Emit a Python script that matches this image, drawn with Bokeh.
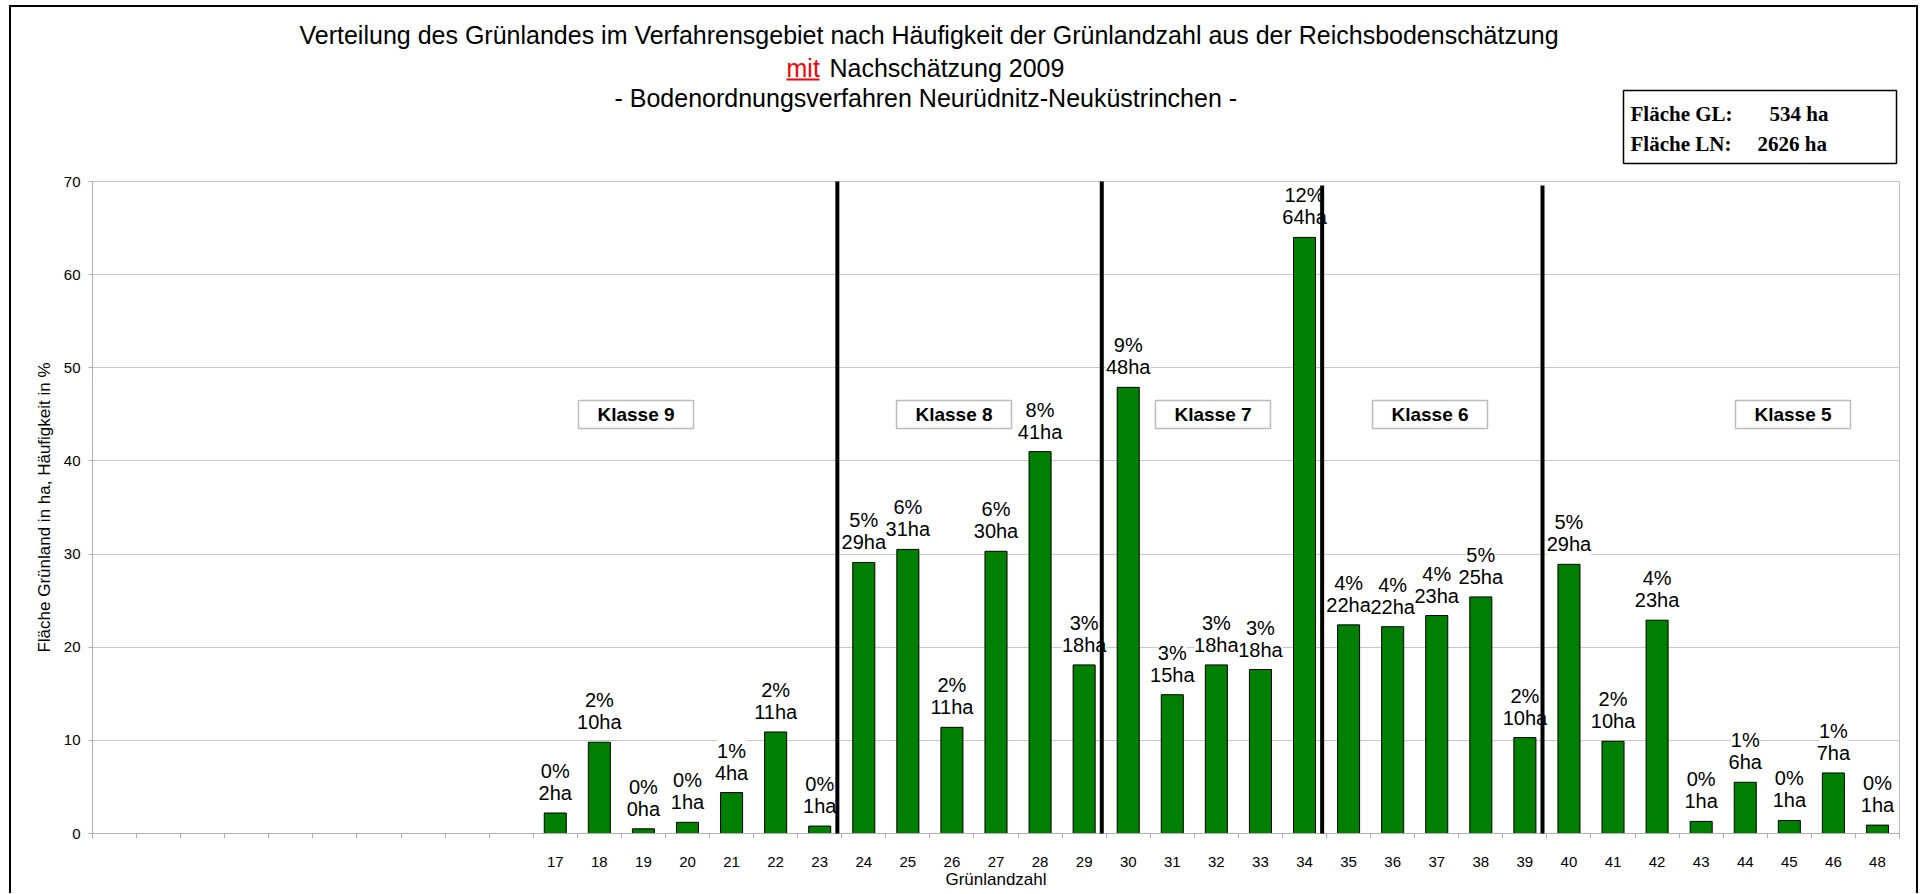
import numpy as np
from bokeh.plotting import figure
from bokeh.layouts import column
from bokeh.models import Range1d, FixedTicker, Label, BoxAnnotation, Arrow, ColumnDataSource
from bokeh.core.properties import value
from bokeh.embed import file_html
from bokeh.resources import INLINE

# ---------------- data ----------------
leere_kategorien = 10  # leading empty category slots on the axis (no area)
grunlandzahl = [17, 18, 19, 20, 21, 22, 23, 24, 25, 26, 27, 28, 29, 30, 31, 32,
                33, 34, 35, 36, 37, 38, 39, 40, 41, 42, 43, 44, 45, 46, 48]
flaeche_ha = [2.2, 9.8, 0.5, 1.2, 4.4, 10.9, 0.8,
              29.1, 30.5, 11.4, 30.3, 41.0, 18.1,
              47.9, 14.9, 18.1, 17.6, 64.0,
              22.4, 22.2, 23.4, 25.4, 10.3,
              28.9, 9.9, 22.9, 1.3, 5.5, 1.4, 6.5, 0.9]
ha_text = ["2ha", "10ha", "0ha", "1ha", "4ha", "11ha", "1ha",
           "29ha", "31ha", "11ha", "30ha", "41ha", "18ha",
           "48ha", "15ha", "18ha", "18ha", "64ha",
           "22ha", "22ha", "23ha", "25ha", "10ha",
           "29ha", "10ha", "23ha", "1ha", "6ha", "1ha", "7ha", "1ha"]
pct_text = ["0%", "2%", "0%", "0%", "1%", "2%", "0%",
            "5%", "6%", "2%", "6%", "8%", "3%",
            "9%", "3%", "3%", "3%", "12%",
            "4%", "4%", "4%", "5%", "2%",
            "5%", "2%", "4%", "0%", "1%", "0%", "1%", "0%"]
klassen = ["Klasse 9", "Klasse 8", "Klasse 7", "Klasse 6", "Klasse 5"]
klassen_grenzen = [23.5, 29.5, 34.5, 39.5]
y_ticks = [0, 10, 20, 30, 40, 50, 60, 70]
flaeche_gl = "534 ha"
flaeche_ln = "2626 ha"

title_1 = "Verteilung des Grünlandes im Verfahrensgebiet nach Häufigkeit der Grünlandzahl aus der Reichsbodenschätzung"
title_2a = "mit"
title_2b = "Nachschätzung 2009"
title_3 = "- Bodenordnungsverfahren Neurüdnitz-Neuküstrinchen  -"

FONT = "Liberation Sans"
SERIF = "Liberation Serif"

# ---------------- layout ----------------
W = 1920
HH = 165                 # header height (page px)
HM = 728                 # main figure height
BL, BR, BT = 92, W - 1899, 16
FB = 833                 # frame bottom, page px
FT = HH + BT             # frame top, page px
BB = HH + HM - FB
n_cat = leere_kategorien + len(grunlandzahl)
pos = [leere_kategorien + i for i in range(len(grunlandzahl))]
CW = (W - BL - BR) / n_cat
YU = (FB - FT) / 70.0

def dx(X):  # page px -> main data x
    return (X - BL) / CW - 0.5

def dy(Y):  # page px -> main data y
    return (FB - Y) / YU

# ---------------- header (titles, area box) ----------------
# the column aligns the header's frame with the chart frame (x from BL to W-BR),
# so this x range makes header data x equal to page x
hdr = figure(width=W, height=HH, output_backend="svg", toolbar_location=None,
             x_range=Range1d(BL, W - BR), y_range=Range1d(HH, 0),
             x_axis_type=None, y_axis_type=None, min_border=0,
             min_border_left=BL, min_border_right=BR)
hdr.grid.visible = False
hdr.outline_line_color = None
hdr.background_fill_color = None
hdr.border_fill_color = None

def hlabel(x, y, text, size, color="#000000", font=FONT, style="normal"):
    hdr.add_layout(Label(x=x, y=y, text=text, text_align="left", text_baseline="middle",
                         text_font=font, text_font_size=size, text_font_style=style,
                         text_color=color))

hlabel(299, 34.5, title_1, "25px")
hlabel(786, 67.5, title_2a, "25px", color="#ff0000")
hdr.line(x=[786, 819], y=[79, 79], line_color="#ff0000", line_width=2)
hlabel(829, 67.5, title_2b, "25px")
hlabel(614, 97.5, title_3, "25px")

hdr.quad(left=[1623], right=[1896], top=[90], bottom=[163], fill_color="white",
         line_color="#000000", line_width=1.5)
for row_y, lab, val, vx in ((113.5, "Fläche GL:", flaeche_gl, 1769),
                            (143.5, "Fläche LN:", flaeche_ln, 1757)):
    hlabel(1630, row_y, lab, "21px", font=SERIF, style="bold")
    hlabel(vx, row_y, val, "21px", font=SERIF, style="bold")

# ---------------- main chart ----------------
p = figure(width=W, height=HM, output_backend="svg", toolbar_location=None,
           x_range=Range1d(-0.5, n_cat - 0.5), y_range=Range1d(0, 70),
           min_border_left=BL, min_border_right=BR, min_border_top=BT, min_border_bottom=BB)
p.background_fill_color = "white"
p.border_fill_color = None
p.outline_line_color = "#c0c0c0"

p.xaxis.ticker = FixedTicker(ticks=pos, minor_ticks=[i - 0.5 for i in range(n_cat + 1)])
p.xaxis.major_label_overrides = {k: str(g) for k, g in zip(pos, grunlandzahl)}
p.xaxis.major_tick_out = 0
p.xaxis.major_tick_in = 0
p.xaxis.minor_tick_out = 5
p.xaxis.minor_tick_in = 0
p.xaxis.minor_tick_line_color = "#b0b0b0"
p.xaxis.axis_line_color = "#b0b0b0"
p.xaxis.major_label_standoff = 18
p.xaxis.axis_label = "Grünlandzahl"
p.xaxis.axis_label_standoff = 0

p.yaxis.ticker = FixedTicker(ticks=y_ticks)
p.yaxis.major_tick_out = 4
p.yaxis.major_tick_in = 0
p.yaxis.minor_tick_line_color = None
p.yaxis.major_tick_line_color = "#b0b0b0"
p.yaxis.axis_line_color = "#b0b0b0"
p.yaxis.major_label_standoff = 8
p.yaxis.axis_label = "Fläche Grünland in ha, Häufigkeit in %"
p.yaxis.axis_label_standoff = 7

for ax in (p.xaxis, p.yaxis):
    ax.major_label_text_font = FONT
    ax.major_label_text_font_size = "15px"
    ax.major_label_text_color = "#000000"
    ax.axis_label_text_font = FONT
    ax.axis_label_text_font_size = "17px"
    ax.axis_label_text_font_style = "normal"
    ax.axis_label_text_color = "#000000"

p.xgrid.grid_line_color = None
p.ygrid.ticker = FixedTicker(ticks=y_ticks)
p.ygrid.grid_line_color = "#c8c8c8"

src = ColumnDataSource(dict(x=pos, top=flaeche_ha, ha=ha_text, pct=pct_text))
p.vbar(x="x", top="top", width=0.5, source=src, fill_color="#008000",
       line_color="#000000", line_width=1)

p.text(x="x", y="top", text="pct", source=src, y_offset=-42, text_align="center",
       text_baseline="middle", text_font=value(FONT), text_font_size="20px",
       text_color="#000000", background_fill_color="white")
p.text(x="x", y="top", text="ha", source=src, y_offset=-20, text_align="center",
       text_baseline="middle", text_font=value(FONT), text_font_size="20px",
       text_color="#000000", background_fill_color="white")

klassen_links = [578, 896, 1155, 1372, 1735]
klassen_breite = 115
for name, lx in zip(klassen, klassen_links):
    p.add_layout(BoxAnnotation(left=dx(lx), right=dx(lx + klassen_breite),
                               bottom=dy(428), top=dy(400),
                               fill_color="white", fill_alpha=1.0,
                               line_color="#222222", line_width=1.5))
    p.add_layout(Label(x=dx(lx + klassen_breite / 2), y=dy(414), text=name,
                       text_align="center", text_baseline="middle",
                       text_font=FONT, text_font_size="19px", text_font_style="bold",
                       text_color="#000000"))

grenz_pos = np.interp(klassen_grenzen, grunlandzahl, pos)
tops = [178, 178, 185, 185]
bottoms = [872, 872, 872, 880]
for gx, t, b in zip(grenz_pos, tops, bottoms):
    p.add_layout(Arrow(end=None, x_start=gx - 0.1, x_end=gx - 0.1, y_start=dy(b), y_end=dy(t),
                       line_color="#000000", line_width=4))

# outer chart frame: left, top and right edges (bottom edge lies below the window)
frame_css = ("inset 9px 0 0 0 #ffffff, inset 0 5px 0 0 #ffffff, inset -2px 0 0 0 #ffffff, "
             "inset 11px 0 0 0 #000000, inset 0 7px 0 0 #000000, inset -4px 0 0 0 #000000")
layout = column(hdr, p, spacing=0, styles={"box-shadow": frame_css})

open("out.html", "w").write(file_html(layout, INLINE))
